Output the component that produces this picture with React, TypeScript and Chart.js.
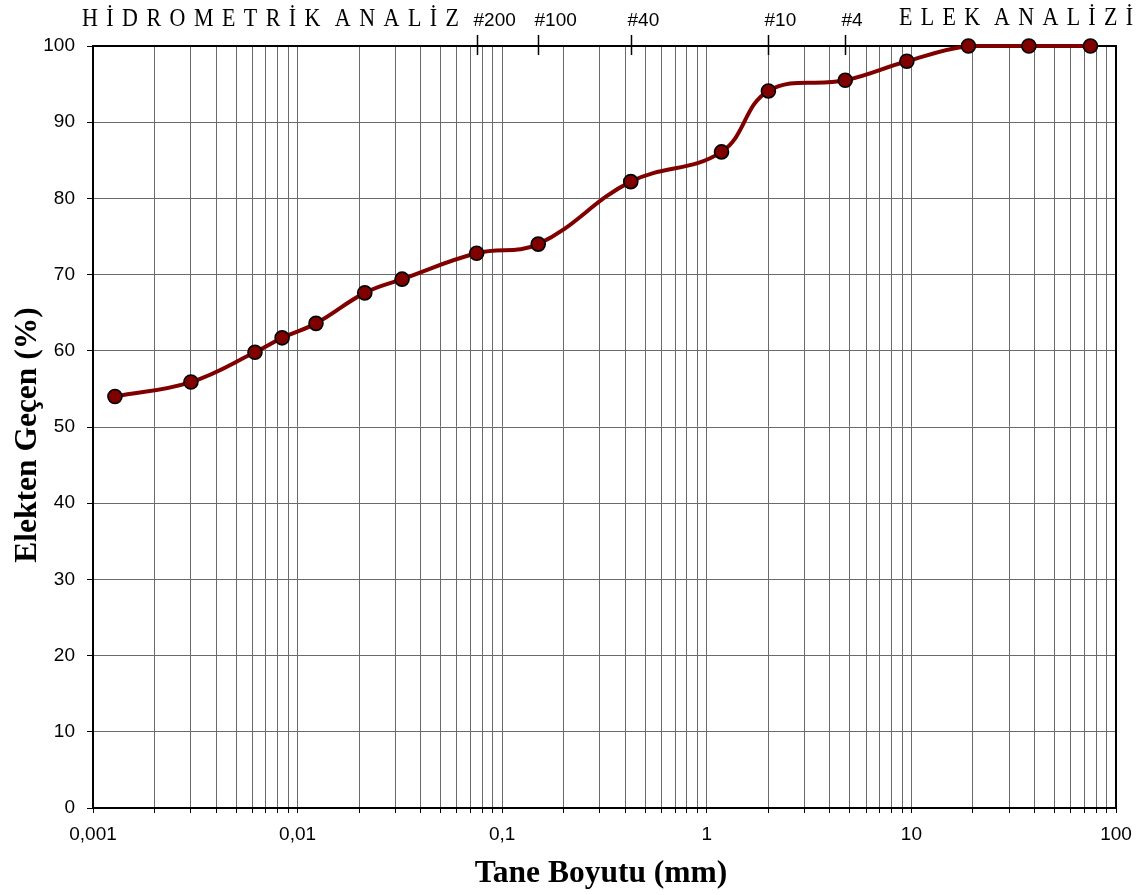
import React, { useEffect, useRef } from "react";
import { Chart, registerables } from "chart.js";

Chart.register(...registerables);

// Grain size distribution (hydrometer + sieve analysis)
const grainSizes = [
  0.00128, 0.00301, 0.00619, 0.0084, 0.0123, 0.0213, 0.0324, 0.075, 0.15,
  0.425, 1.18, 2.0, 4.75, 9.5, 19, 37.5, 75,
];
const percentPassing = [
  54.0, 55.9, 59.8, 61.7, 63.6, 67.6, 69.4, 72.8, 74.0, 82.2, 86.1, 94.1,
  95.5, 98.0, 100, 100, 100,
];

// Sieve numbers marked along the top edge
const sieveNames = ["#200", "#100", "#40", "#10", "#4"];
const sieveSizes = [0.075, 0.15, 0.425, 2, 4.75];

// Logarithmic x axis: labelled decades
const xDecades = [0.001, 0.01, 0.1, 1, 10, 100];
const xDecadeLabels = ["0,001", "0,01", "0,1", "1", "10", "100"];

const yMin = 0;
const yMax = 100;
const yStep = 10;

const xTitle = "Tane Boyutu (mm)";
const yTitle = "Elekten Geçen (%)";
const leftHeading = "HİDROMETRİK ANALİZ";
const rightHeading = "ELEK ANALİZİ";

const SANS = "'Liberation Sans', Arial, sans-serif";
const SERIF = "'Liberation Serif', 'Times New Roman', serif";

function minorTicks(): { value: number }[] {
  const out: { value: number }[] = [];
  for (let i = 0; i < xDecades.length - 1; i++) {
    for (let k = 1; k <= 9; k++) {
      out.push({ value: Number((k * xDecades[i]).toPrecision(6)) });
    }
  }
  out.push({ value: xDecades[xDecades.length - 1] });
  return out;
}

// Letter-spaced heading fitted between x0 and x1; a word break counts as 1.7 letter gaps
function drawSpaced(
  ctx: CanvasRenderingContext2D,
  text: string,
  x0: number,
  x1: number,
  baseline: number,
  stretch: number
) {
  const chars = Array.from(text);
  const widths = chars.map((c) => (c === " " ? 0 : ctx.measureText(c).width));
  const total = widths.reduce((a, b) => a + b, 0);
  let gapUnits = 0;
  for (let i = 0; i < chars.length - 1; i++) {
    if (chars[i] === " ") continue;
    gapUnits += chars[i + 1] === " " ? 1.7 : 1;
  }
  const gap = (x1 - x0 - total) / gapUnits;
  ctx.save();
  ctx.translate(0, baseline);
  ctx.scale(1, stretch);
  let x = x0;
  chars.forEach((c, i) => {
    if (c === " ") return;
    ctx.fillText(c, x, 0);
    x += widths[i] + (chars[i + 1] === " " ? 1.7 * gap : gap);
  });
  ctx.restore();
}

const decorations = {
  id: "decorations",
  beforeDatasetsDraw(chart: any) {
    const { ctx, chartArea } = chart;
    const { left, right, top, bottom } = chartArea;
    ctx.save();
    ctx.strokeStyle = "#000";
    ctx.lineWidth = 2;
    ctx.beginPath();
    ctx.moveTo(left, top);
    ctx.lineTo(right, top);
    ctx.lineTo(right, bottom);
    ctx.stroke();
    ctx.restore();
  },
  afterDraw(chart: any) {
    const { ctx, chartArea } = chart;
    const xs = chart.scales.x;
    const top = chartArea.top;
    ctx.save();
    ctx.fillStyle = "#000";
    ctx.strokeStyle = "#000";

    // sieve ticks and labels
    ctx.lineWidth = 1.5;
    ctx.font = `19px ${SANS}`;
    ctx.textAlign = "left";
    ctx.textBaseline = "alphabetic";
    sieveSizes.forEach((s, i) => {
      const px = Math.round(xs.getPixelForValue(s)) + 0.5;
      ctx.beginPath();
      ctx.moveTo(px, top - 11);
      ctx.lineTo(px, top + 9);
      ctx.stroke();
      ctx.fillText(sieveNames[i], px - 4, 26);
    });

    // section headings
    ctx.font = `22px ${SERIF}`;
    drawSpaced(ctx, leftHeading, 82, 459, 25.5, 1.15);
    drawSpaced(ctx, rightHeading, 899, 1133, 25, 1.15);

    // axis titles
    ctx.font = `bold 31.5px ${SERIF}`;
    ctx.textAlign = "center";
    ctx.fillText(xTitle, 601, 882);
    ctx.save();
    ctx.translate(36, 435);
    ctx.rotate(-Math.PI / 2);
    ctx.fillText(yTitle, 0, 0);
    ctx.restore();

    ctx.restore();
  },
};

export default function App() {
  const canvasRef = useRef<HTMLCanvasElement | null>(null);

  useEffect(() => {
    const canvas = canvasRef.current;
    if (!canvas) return;
    const chart = new Chart(canvas, {
      type: "line",
      data: {
        datasets: [
          {
            data: grainSizes.map((g, i) => ({ x: g, y: percentPassing[i] })),
            borderColor: "#800000",
            borderWidth: 4,
            tension: 0.4,
            pointRadius: 7,
            pointBackgroundColor: "#800000",
            pointBorderColor: "#000",
            pointBorderWidth: 1.6,
            clip: 10,
          } as any,
        ],
      },
      options: {
        animation: false,
        responsive: false,
        devicePixelRatio: 1,
        layout: { padding: { top: 46, right: 32, left: 0, bottom: 0 } },
        plugins: {
          legend: { display: false },
          tooltip: { enabled: false },
        },
        scales: {
          x: {
            type: "logarithmic",
            min: xDecades[0],
            max: xDecades[xDecades.length - 1],
            afterBuildTicks: (scale: any) => {
              scale.ticks = minorTicks();
            },
            afterFit: (scale: any) => {
              scale.height = 87;
            },
            ticks: {
              autoSkip: false,
              maxRotation: 0,
              minRotation: 0,
              padding: 10,
              color: "#000",
              font: { size: 19, family: SANS },
              callback: (value: any) => {
                const v = Number(value);
                const i = xDecades.findIndex((d) => Math.abs(d - v) / d < 1e-6);
                return i >= 0 ? xDecadeLabels[i] : "";
              },
            },
            grid: {
              color: "#6a6a6a",
              lineWidth: 1,
              tickLength: 5,
              tickColor: "#000",
              drawTicks: true,
            },
            border: { display: true, color: "#000", width: 2 },
          },
          y: {
            type: "linear",
            min: yMin,
            max: yMax,
            afterFit: (scale: any) => {
              scale.width = 93;
            },
            ticks: {
              stepSize: yStep,
              padding: 12,
              color: "#000",
              font: { size: 19, family: SANS },
            },
            grid: {
              color: "#6a6a6a",
              lineWidth: 1,
              tickLength: 6,
              tickColor: "#000",
            },
            border: { display: true, color: "#000", width: 2 },
          },
        },
      },
      plugins: [decorations],
    });
    return () => chart.destroy();
  }, []);

  return (
    <div style={{ position: "absolute", left: 0, top: 0, background: "#fff" }}>
      <canvas ref={canvasRef} width={1148} height={895} />
    </div>
  );
}
